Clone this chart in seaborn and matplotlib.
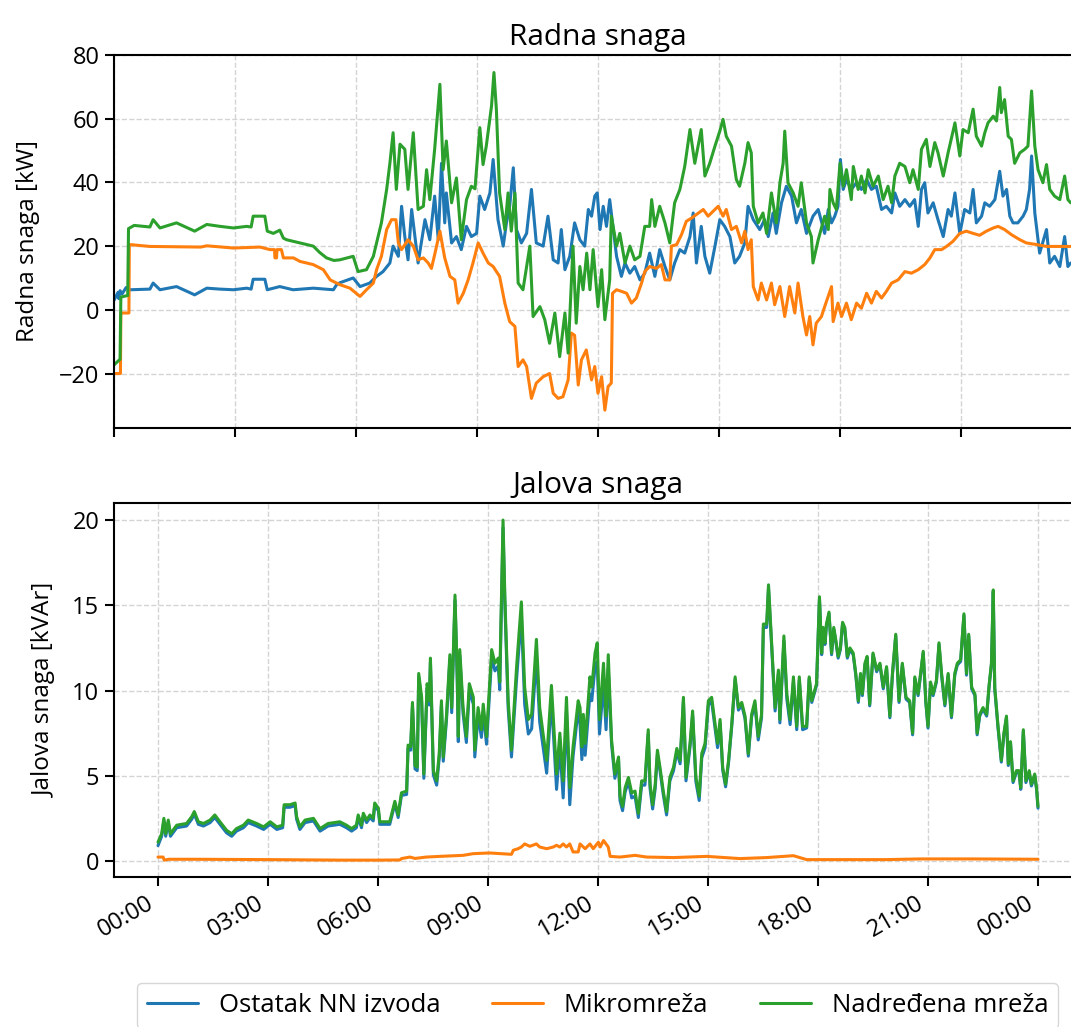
import matplotlib
matplotlib.use("Agg")
import matplotlib.pyplot as plt
import seaborn as sns

# ---------------- DATA ----------------
labels = ["Ostatak NN izvoda", "Mikromreža", "Nadređena mreža"]
tick_hours = [0, 3, 6, 9, 12, 15, 18, 21, 24]
tick_labels = ["00:00", "03:00", "06:00", "09:00", "12:00", "15:00", "18:00", "21:00", "00:00"]

# Top panel: active power [kW]
top_t_blue = [0.00,0.10,0.12,0.15,0.20,0.30,0.40,0.89,0.97,1.14,
              1.55,2.00,2.30,2.63,2.96,3.29,3.40,3.45,3.74,3.80,
              4.11,4.44,4.94,5.44,5.52,5.60,5.93,6.10,6.34,6.51,
              6.67,6.84,6.92,7.05,7.13,7.21,7.29,7.38,7.54,7.71,
              7.83,7.95,8.04,8.12,8.20,8.24,8.37,8.49,8.61,8.74,
              8.86,8.99,9.07,9.19,9.32,9.40,9.52,9.65,9.73,9.81,
              9.90,9.98,10.10,10.23,10.35,10.47,10.64,10.76,10.89,11.01,
              11.09,11.18,11.30,11.42,11.55,11.67,11.76,11.84,11.92,11.98,
              12.05,12.13,12.21,12.29,12.38,12.46,12.58,12.67,12.79,12.91,
              13.04,13.16,13.28,13.41,13.53,13.66,13.78,13.90,14.03,14.15,
              14.28,14.36,14.44,14.56,14.65,14.77,14.90,15.02,15.14,15.27,
              15.39,15.51,15.64,15.72,15.85,16.01,16.13,16.22,16.34,16.42,
              16.55,16.67,16.80,16.92,17.04,17.17,17.33,17.46,17.62,17.71,
              17.79,17.87,17.95,18.01,18.08,18.16,18.28,18.41,18.53,18.66,
              18.78,18.90,19.03,19.15,19.28,19.36,19.48,19.61,19.73,19.85,
              19.94,20.02,20.10,20.18,20.31,20.43,20.56,20.68,20.76,20.85,
              20.97,21.09,21.22,21.30,21.38,21.51,21.59,21.71,21.84,21.96,
              22.04,22.13,22.21,22.29,22.41,22.54,22.62,22.70,22.75,22.83,
              22.95,23.12,23.20,23.32,23.45,23.57,23.65,23.72]
top_blue = [3.0,5.5,3.5,6.0,5.0,7.0,6.3,6.5,8.4,6.3,
            7.3,4.7,6.8,6.5,6.3,6.8,6.5,9.6,9.6,6.3,
            7.3,6.3,6.8,6.3,7.9,8.5,10.0,7.3,8.4,10.5,
            12.0,14.7,20.0,16.8,32.5,23.0,15.7,31.5,14.7,28.3,
            22.0,35.7,22.0,46.0,27.3,36.7,21.0,23.0,18.9,26.2,
            23.0,24.0,35.7,31.5,36.7,47.2,28.3,20.0,27.3,32.5,
            44.6,25.2,21.0,24.0,37.8,21.0,20.0,29.4,15.7,14.7,
            25.2,12.6,16.8,27.3,22.0,20.0,31.5,29.4,35.7,36.7,
            25.2,32.5,26.2,34.6,25.2,16.8,10.5,14.7,11.5,13.6,
            9.4,11.5,17.8,10.5,18.9,13.6,9.4,14.7,18.9,17.8,
            23.0,30.4,14.7,26.2,16.8,11.5,20.0,28.3,26.2,23.0,
            14.7,16.8,21.0,32.5,28.3,25.2,28.3,23.0,30.4,24.0,
            33.6,38.8,35.7,27.3,31.5,24.0,29.4,31.5,24.0,31.5,
            27.3,29.4,32.5,47.2,37.8,40.9,37.8,39.9,37.8,40.9,
            37.8,38.8,31.5,32.5,30.4,36.7,32.5,34.6,32.5,34.6,
            26.2,37.8,39.9,30.4,33.6,28.3,23.0,31.5,29.4,36.7,
            24.0,31.5,30.4,37.8,27.3,29.4,33.6,32.5,34.6,43.5,
            35.7,37.8,29.4,27.3,27.3,29.4,31.5,37.8,48.3,30.4,
            17.8,25.2,14.7,16.8,13.6,23.0,13.6,14.7]

top_t_orange = [0.00,0.16,0.17,0.37,0.38,0.89,2.15,2.30,2.96,3.62,
                3.87,3.98,3.99,4.03,4.04,4.15,4.20,4.45,4.61,4.94,
                5.19,5.36,5.60,5.85,6.10,6.26,6.43,6.51,6.63,6.76,
                6.88,6.99,7.05,7.13,7.29,7.42,7.54,7.67,7.79,7.87,
                7.95,8.08,8.20,8.33,8.45,8.53,8.66,8.78,8.90,9.03,
                9.15,9.28,9.40,9.56,9.69,9.81,9.94,10.02,10.14,10.23,
                10.35,10.47,10.64,10.80,10.89,11.01,11.13,11.26,11.34,11.42,
                11.51,11.59,11.71,11.84,11.92,12.00,12.09,12.17,12.25,12.33,
                12.36,12.46,12.58,12.71,12.83,12.95,13.08,13.16,13.28,13.45,
                13.57,13.66,13.78,13.82,13.95,14.07,14.19,14.32,14.44,14.61,
                14.73,14.85,14.98,15.10,15.18,15.31,15.43,15.56,15.64,15.72,
                15.80,15.85,15.97,16.05,16.18,16.30,16.38,16.51,16.63,16.75,
                16.88,16.96,17.08,17.17,17.25,17.33,17.41,17.54,17.62,17.79,
                17.83,17.95,18.04,18.16,18.28,18.41,18.53,18.66,18.78,18.90,
                19.03,19.15,19.28,19.44,19.61,19.77,19.94,20.10,20.23,20.35,
                20.52,20.64,20.80,20.97,21.13,21.30,21.46,21.63,21.80,21.92,
                22.08,22.25,22.46,22.62,22.87,23.12,23.72]
top_orange = [-20.0,-20.0,-1.0,-1.0,20.5,19.9,19.7,20.1,19.4,19.7,
              18.9,18.9,16.3,16.3,18.9,18.9,16.3,16.3,15.2,14.2,
              12.6,9.4,7.9,6.8,4.2,6.3,8.4,12.6,16.8,25.2,
              28.3,28.3,21.0,18.9,22.0,20.0,15.7,16.3,14.7,13.0,
              17.3,24.7,16.3,10.5,9.4,2.1,5.2,9.4,14.7,21.0,
              17.8,14.7,13.6,10.5,2.1,-3.7,-5.2,-17.8,-15.7,-17.8,
              -27.8,-23.0,-21.0,-20.0,-26.2,-27.8,-27.3,-22.0,-7.3,-8.0,
              -23.6,-15.7,-12.6,-22.0,-17.8,-26.2,-21.0,-31.5,-24.1,-23.0,
              5.2,6.3,5.8,5.2,2.1,3.7,8.4,12.0,13.6,13.0,
              14.2,9.4,9.4,20.0,20.5,23.6,27.8,28.8,29.9,31.5,
              29.4,30.9,32.5,29.4,31.5,25.2,26.2,21.0,24.7,18.9,
              22.0,7.3,3.1,8.4,3.1,8.4,1.6,7.3,-2.1,7.3,
              -1.0,8.4,-2.1,-7.9,-2.1,-11.0,-4.2,-2.1,1.0,7.3,
              -3.7,2.1,-2.1,2.1,-3.1,2.1,0.5,5.2,2.1,5.8,
              3.7,5.8,8.4,9.4,12.0,11.5,12.6,14.2,16.3,18.9,
              18.9,19.9,21.5,24.0,24.7,24.0,23.4,24.7,25.7,26.2,
              25.2,23.6,22.0,21.0,20.5,19.9,19.9]

top_t_green = [0.00,0.15,0.17,0.34,0.36,0.50,0.89,0.97,1.14,1.55,
               2.00,2.30,2.63,2.96,3.29,3.40,3.45,3.74,3.80,3.95,
               4.11,4.20,4.28,4.61,4.94,5.10,5.27,5.45,5.60,5.93,
               6.05,6.26,6.43,6.51,6.63,6.76,6.84,6.92,7.00,7.09,
               7.21,7.29,7.42,7.54,7.67,7.75,7.83,7.95,8.08,8.16,
               8.24,8.37,8.49,8.61,8.74,8.86,8.95,9.07,9.15,9.23,
               9.36,9.42,9.48,9.56,9.69,9.77,9.85,9.94,10.02,10.14,
               10.31,10.39,10.56,10.68,10.80,10.93,11.05,11.18,11.26,11.38,
               11.46,11.55,11.63,11.72,11.80,11.88,12.00,12.09,12.17,12.29,
               12.33,12.46,12.54,12.67,12.79,12.91,13.04,13.16,13.28,13.33,
               13.41,13.53,13.66,13.78,13.90,14.03,14.15,14.28,14.40,14.56,
               14.65,14.77,14.90,15.02,15.10,15.18,15.31,15.43,15.51,15.64,
               15.72,15.80,15.85,15.97,16.09,16.18,16.30,16.42,16.51,16.59,
               16.63,16.71,16.84,16.96,17.04,17.17,17.29,17.33,17.46,17.62,
               17.71,17.75,17.83,17.91,18.00,18.08,18.16,18.28,18.33,18.45,
               18.53,18.62,18.70,18.82,18.95,19.07,19.19,19.28,19.36,19.48,
               19.61,19.73,19.81,19.94,20.02,20.14,20.23,20.35,20.43,20.56,
               20.68,20.85,20.97,21.05,21.18,21.30,21.38,21.51,21.59,21.67,
               21.80,21.88,21.96,22.00,22.08,22.17,22.25,22.33,22.46,22.58,
               22.66,22.75,22.83,22.91,23.03,23.12,23.20,23.32,23.45,23.57,
               23.65,23.72]
top_green = [-17.3,-15.5,4.0,4.5,25.5,26.5,26.0,28.3,25.7,27.3,
             24.7,26.8,26.2,25.7,26.2,26.0,29.4,29.4,24.7,24.0,
             25.0,22.5,22.0,21.0,20.0,18.0,16.3,15.5,15.7,16.8,
             12.0,12.6,16.8,21.0,27.3,37.8,46.0,55.6,37.8,52.0,
             50.4,37.8,55.6,31.5,32.5,44.0,34.6,50.4,70.8,44.0,
             53.0,33.6,41.4,22.0,34.6,38.8,38.0,57.2,45.6,51.4,
             64.0,74.5,63.0,36.7,25.2,36.7,24.7,36.7,8.4,6.3,
             20.0,-2.1,1.0,-3.1,-10.5,-1.0,-14.7,-1.0,-13.6,20.0,
             -4.2,13.6,6.3,17.8,6.3,18.9,1.0,12.6,-3.1,9.4,
             29.4,20.0,24.0,14.7,20.0,15.7,16.8,26.2,26.2,34.6,
             26.2,32.5,27.3,21.0,33.6,37.8,45.0,56.6,46.0,56.6,
             42.0,46.0,51.4,56.1,59.8,54.5,51.4,40.9,38.8,46.0,
             52.5,49.3,32.5,27.3,30.4,24.0,36.7,27.3,39.9,46.0,
             56.1,39.9,36.7,32.5,39.9,27.3,23.0,14.7,22.0,29.4,
             25.2,37.8,33.6,31.5,46.0,38.8,44.0,34.6,45.0,37.8,
             42.0,36.7,44.0,38.8,42.0,34.6,38.8,33.6,42.0,46.0,
             45.0,39.9,44.0,37.8,50.4,53.5,45.0,52.5,49.3,42.0,
             49.3,58.7,48.3,56.6,55.6,63.0,54.5,51.4,55.6,58.7,
             60.8,59.3,69.8,61.9,66.0,54.5,53.5,46.0,49.3,50.4,
             51.4,68.7,51.4,44.0,39.9,45.6,37.8,35.7,34.6,42.0,
             34.6,33.6]

# Bottom panel: reactive power [kVAr]
bot_t = [0.00,0.10,0.16,0.21,0.28,0.34,0.51,0.78,0.92,0.99,
         1.10,1.24,1.42,1.55,1.69,1.87,2.01,2.14,2.33,2.46,
         2.69,2.88,3.06,3.24,3.40,3.44,3.60,3.74,3.78,3.87,
         4.01,4.24,4.42,4.64,4.96,5.14,5.28,5.41,5.46,5.55,
         5.60,5.69,5.78,5.87,5.91,6.01,6.05,6.32,6.46,6.55,
         6.64,6.78,6.82,6.89,6.94,7.01,7.07,7.11,7.19,7.25,
         7.34,7.40,7.43,7.51,7.60,7.67,7.73,7.78,7.87,7.96,
         8.01,8.10,8.16,8.19,8.23,8.32,8.41,8.49,8.60,8.64,
         8.73,8.82,8.87,8.96,9.10,9.19,9.28,9.32,9.37,9.41,
         9.46,9.55,9.64,9.78,9.91,10.00,10.10,10.19,10.32,10.41,
         10.50,10.60,10.73,10.87,10.96,11.05,11.14,11.23,11.32,11.46,
         11.51,11.56,11.60,11.65,11.74,11.78,11.83,11.92,11.98,12.04,
         12.15,12.22,12.28,12.37,12.46,12.56,12.60,12.67,12.74,12.83,
         12.92,13.01,13.10,13.19,13.28,13.37,13.42,13.49,13.56,13.62,
         13.69,13.78,13.87,13.96,14.06,14.15,14.24,14.33,14.40,14.51,
         14.58,14.67,14.76,14.83,14.92,15.01,15.10,15.19,15.26,15.33,
         15.40,15.48,15.56,15.65,15.74,15.83,15.92,16.01,16.10,16.19,
         16.28,16.37,16.46,16.51,16.60,16.65,16.74,16.83,16.92,16.96,
         17.07,17.15,17.24,17.33,17.42,17.49,17.58,17.69,17.76,17.83,
         17.96,18.04,18.10,18.14,18.19,18.23,18.30,18.37,18.43,18.49,
         18.55,18.61,18.67,18.73,18.80,18.87,18.96,19.03,19.10,19.16,
         19.21,19.28,19.34,19.41,19.50,19.60,19.69,19.78,19.87,19.96,
         20.03,20.12,20.21,20.30,20.40,20.50,20.58,20.64,20.73,20.87,
         20.94,21.00,21.07,21.14,21.23,21.30,21.37,21.46,21.55,21.64,
         21.73,21.80,21.89,21.98,22.05,22.11,22.19,22.28,22.34,22.41,
         22.50,22.60,22.67,22.73,22.78,22.82,22.91,23.00,23.07,23.14,
         23.19,23.25,23.32,23.41,23.48,23.53,23.60,23.67,23.76,23.82,
         23.91,23.96,24.00]
bot_green = [1.1,1.6,2.5,1.6,2.4,1.6,2.1,2.2,2.6,2.9,
             2.3,2.2,2.4,2.7,2.3,1.8,1.6,1.9,2.1,2.4,
             2.2,2.0,2.3,2.0,2.1,3.3,3.3,3.4,2.6,2.0,
             2.4,2.5,1.9,2.2,2.3,2.1,1.9,2.1,2.7,2.1,
             2.8,2.4,2.7,2.5,3.4,3.1,2.3,2.3,3.5,2.7,
             4.0,4.1,6.8,6.7,9.3,5.6,5.5,11.0,9.6,5.1,
             10.4,9.4,11.9,5.3,4.7,6.3,9.4,6.1,8.6,12.1,
             9.0,15.6,11.0,7.3,12.4,9.0,7.3,10.4,9.6,6.5,
             9.0,7.7,9.2,7.3,12.4,11.6,11.9,10.5,15.9,20.0,
             15.5,9.4,6.5,11.4,15.2,10.2,8.3,8.6,13.0,9.0,
             7.5,5.9,10.3,5.1,7.5,4.7,9.6,4.3,6.7,9.4,
             9.0,6.7,8.6,6.9,9.6,10.8,10.2,12.2,12.8,8.3,
             11.6,8.5,12.1,7.1,5.1,6.1,3.8,3.2,4.3,4.9,
             4.0,4.1,2.8,4.7,4.7,7.7,4.5,3.3,4.5,6.5,
             5.5,4.1,2.9,4.9,5.5,6.6,5.9,9.6,4.9,6.9,
             8.8,4.9,3.8,6.3,6.9,9.4,9.6,8.1,6.9,8.3,
             5.5,4.5,5.9,8.1,10.8,9.0,9.3,8.5,6.3,8.6,
             9.4,7.3,8.6,13.9,13.9,16.2,12.6,9.0,11.2,8.3,
             13.2,9.8,8.3,10.8,7.9,10.8,7.9,7.9,10.8,9.4,
             10.4,15.5,12.2,13.7,12.8,13.9,14.6,12.2,13.7,12.9,
             12.0,12.5,14.0,13.7,12.0,12.5,12.2,11.0,9.4,11.0,
             9.8,11.6,12.0,9.2,12.2,11.2,11.6,10.2,11.4,8.5,
             11.0,13.3,9.4,11.6,9.6,9.4,7.5,10.8,9.8,12.3,
             9.4,7.9,10.5,9.8,10.6,12.8,11.0,9.2,11.0,8.5,
             11.0,11.6,11.8,14.5,11.0,13.3,10.2,9.8,7.5,8.6,
             9.0,8.6,10.4,11.6,15.9,10.2,7.9,5.9,7.5,8.5,
             5.7,7.0,4.7,5.3,5.3,4.3,7.7,4.7,5.3,4.5,
             5.1,4.3,3.2]
bot_blue = [0.9,1.45,2.35,1.45,2.25,1.45,1.95,2.05,2.45,2.75,
            2.15,2.05,2.25,2.55,2.15,1.65,1.45,1.75,1.95,2.25,
            2.05,1.85,2.15,1.85,1.95,3.15,3.15,3.25,2.45,1.85,
            2.25,2.35,1.75,2.05,2.15,1.95,1.75,1.95,2.55,1.95,
            2.65,2.25,2.55,2.35,3.25,2.95,2.15,2.15,3.35,2.55,
            3.85,3.9,6.6,6.5,9.1,5.4,5.3,10.8,9.35,4.85,
            10.15,9.15,11.65,5.05,4.45,6.05,9.15,5.85,8.35,11.8,
            8.7,15.3,10.7,7.0,12.05,8.65,6.95,10.0,9.2,6.1,
            8.55,7.25,8.75,6.85,11.95,11.15,11.45,10.05,15.45,19.55,
            15.05,8.95,6.1,10.7,14.4,9.2,7.45,7.75,12.0,8.15,
            6.75,5.15,9.5,4.2,6.7,3.7,8.8,3.3,6.15,8.9,
            8.0,5.95,7.9,6.2,8.7,9.8,9.4,11.4,11.7,7.45,
            10.4,7.7,11.3,6.85,4.85,5.85,3.55,2.95,4.05,4.65,
            3.7,3.8,2.55,4.45,4.45,7.45,4.25,3.05,4.25,6.25,
            5.3,3.9,2.7,4.7,5.3,6.4,5.7,9.4,4.7,6.7,
            8.55,4.65,3.55,6.05,6.65,9.15,9.35,7.85,6.65,8.05,
            5.35,4.35,5.75,7.95,10.65,8.85,9.15,8.35,6.15,8.45,
            9.2,7.1,8.4,13.7,13.7,16.0,12.4,8.8,11.0,8.1,
            12.9,9.5,8.0,10.5,7.7,10.6,7.7,7.8,10.7,9.3,
            10.3,15.4,12.1,13.6,12.7,13.8,14.5,12.1,13.6,12.8,
            11.9,12.4,13.9,13.6,11.9,12.4,12.1,10.9,9.3,10.9,
            9.7,11.5,11.9,9.1,12.1,11.1,11.5,10.1,11.3,8.4,
            10.9,13.2,9.3,11.5,9.5,9.3,7.4,10.7,9.7,12.2,
            9.3,7.8,10.4,9.7,10.5,12.7,10.9,9.1,10.9,8.4,
            10.9,11.5,11.7,14.4,10.9,13.2,10.1,9.7,7.4,8.5,
            8.9,8.5,10.3,11.5,15.8,10.1,7.8,5.8,7.4,8.4,
            5.6,6.9,4.6,5.2,5.2,4.2,7.6,4.6,5.2,4.4,
            5.0,4.2,3.1]
bot_t_orange = [0.00,0.14,0.17,0.30,1.00,3.00,5.00,6.00,6.60,6.64,
                6.87,7.01,7.32,7.69,8.32,8.60,9.05,9.64,9.69,9.82,
                9.91,10.00,10.14,10.32,10.41,10.60,10.78,10.87,10.96,11.05,
                11.14,11.23,11.32,11.46,11.51,11.65,11.78,11.87,12.01,12.06,
                12.15,12.28,12.33,12.60,13.01,13.33,14.06,14.97,15.87,16.60,
                17.33,17.69,19.87,20.80,22.20,24.00]
bot_orange = [0.23,0.23,0.05,0.10,0.10,0.08,0.05,0.05,0.06,0.14,
              0.23,0.15,0.23,0.27,0.33,0.43,0.47,0.39,0.63,0.72,
              0.82,1.00,0.86,1.00,0.82,0.72,0.82,0.92,0.82,1.00,
              0.82,1.00,0.53,0.53,1.00,0.72,1.00,0.72,1.10,0.82,
              1.20,0.82,0.27,0.23,0.33,0.23,0.20,0.27,0.14,0.20,
              0.31,0.08,0.08,0.12,0.12,0.10]

for a, b in [(top_t_blue, top_blue), (top_t_orange, top_orange), (top_t_green, top_green),
             (bot_t, bot_green), (bot_t, bot_blue), (bot_t_orange, bot_orange)]:
    assert len(a) == len(b), (len(a), len(b))

# ---------------- STYLE ----------------
sns.set_theme(style="ticks")
plt.rcParams['font.family'] = ['Open Sans', 'DejaVu Sans']
plt.rcParams['text.color'] = 'black'
plt.rcParams['axes.labelcolor'] = 'black'
plt.rcParams['xtick.color'] = 'black'
plt.rcParams['ytick.color'] = 'black'
plt.rcParams['axes.unicode_minus'] = True
colors = ["#1f77b4", "#ff7f0e", "#2ca02c"]
LW = 2.2

fig = plt.figure(figsize=(10.71, 10.27), dpi=100)
W, H = 1071, 1027
ax1 = fig.add_axes([114 / W, 1 - 428 / H, 968 / W, 373 / H])
ax2 = fig.add_axes([114 / W, 1 - 877 / H, 968 / W, 374 / H])

top_series = [(top_t_blue, top_blue), (top_t_orange, top_orange), (top_t_green, top_green)]
bot_series = [(bot_t, bot_blue), (bot_t_orange, bot_orange), (bot_t, bot_green)]

for (t, v), c, lab in zip(top_series, colors, labels):
    sns.lineplot(x=t, y=v, ax=ax1, color=c, linewidth=LW, estimator=None,
                 sort=False, legend=False, label=lab)
for (t, v), c, lab in zip(bot_series, colors, labels):
    sns.lineplot(x=t, y=v, ax=ax2, color=c, linewidth=LW, estimator=None,
                 sort=False, legend=False, label=lab)

for ax in (ax1, ax2):
    ax.grid(True, linestyle='--', linewidth=1.0, color='#d4d4d4')
    ax.set_axisbelow(True)
    for s in ax.spines.values():
        s.set_color('black')
        s.set_linewidth(1.5)
    ax.tick_params(axis='both', length=6.5, width=1.5, color='black',
                   labelcolor='black', labelsize=17, pad=4)
    if ax.get_legend() is not None:
        ax.get_legend().remove()

# top panel
ax1.set_xlim(0, 24)
ax1.set_xticks(tick_hours)
ax1.tick_params(axis='x', labelbottom=False)
ax1.set_ylim(-37.1, 80)
ax1.set_yticks([-20, 0, 20, 40, 60, 80])
ax1.set_title("Radna snaga", fontsize=21.5, pad=7)
ax1.set_ylabel("Radna snaga [kW]", fontsize=17.5, labelpad=14)
ax1.set_xlabel("")

# bottom panel
ax2.set_xlim(-1.2, 25.2)
ax2.set_xticks(tick_hours)
ax2.set_xticklabels(tick_labels, rotation=30, ha='right')
ax2.set_ylim(-0.94, 21.0)
ax2.set_yticks([0, 5, 10, 15, 20])
ax2.set_title("Jalova snaga", fontsize=21.5, pad=7)
ax2.set_ylabel("Jalova snaga [kVAr]", fontsize=17.5, labelpad=11)
ax2.set_xlabel("")

handles = ax1.get_lines()[:3]
fig.legend(handles, labels, loc='upper center',
           bbox_to_anchor=((137 + 1058) / 2 / W, 1 - 983 / H),
           borderaxespad=0.0,
           ncol=3, fontsize=18.5, frameon=True, framealpha=0.8,
           edgecolor='0.8', fancybox=True)

fig.savefig("out.png", dpi=100)
